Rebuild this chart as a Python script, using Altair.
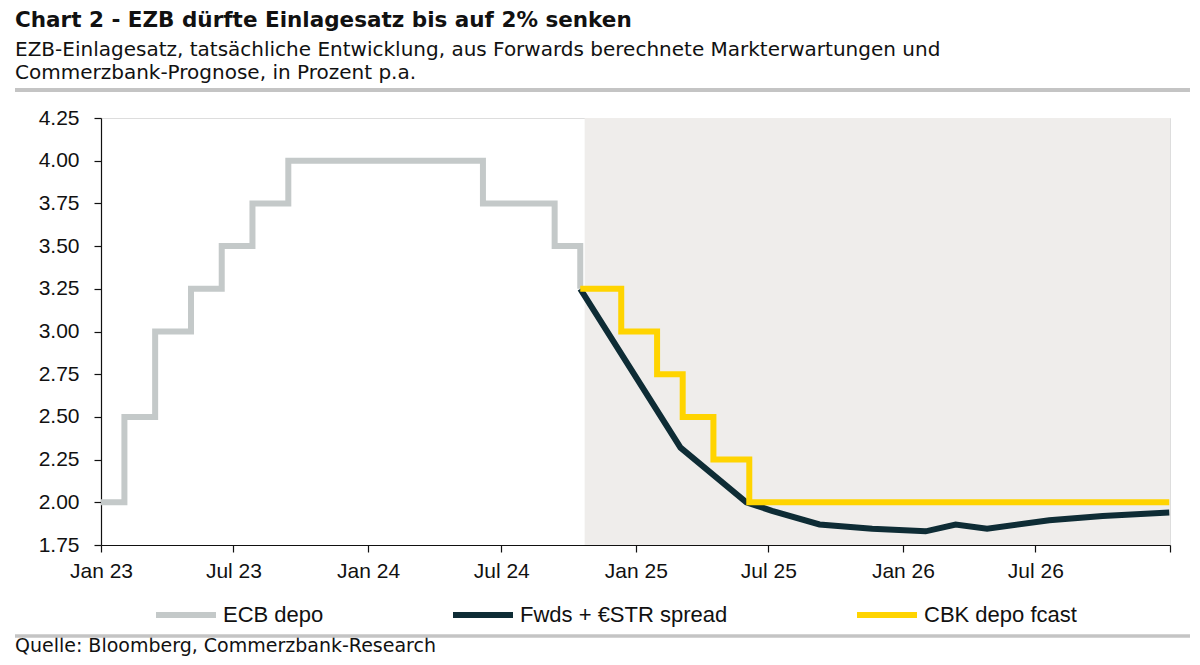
import altair as alt
import pandas as pd

TITLE = "Chart 2 - EZB dürfte Einlagesatz bis auf 2% senken"
SUB1 = "EZB-Einlagesatz, tatsächliche Entwicklung, aus Forwards berechnete Markterwartungen und"
SUB2 = "Commerzbank-Prognose, in Prozent p.a."
SOURCE = "Quelle: Bloomberg, Commerzbank-Research"

SERIES = ["ECB depo", "Fwds + €STR spread", "CBK depo fcast"]
COLORS = ["#c4c9c9", "#0e2c35", "#ffd400"]

ecb_dates = ["2023-01-01", "2023-02-02", "2023-03-16", "2023-05-04", "2023-06-15",
             "2023-07-27", "2023-09-14", "2024-06-06", "2024-09-12", "2024-10-17"]
ecb_values = [2.00, 2.50, 3.00, 3.25, 3.50, 3.75, 4.00, 3.75, 3.50, 3.25]

fwd_dates = ["2024-10-17", "2025-03-03", "2025-06-01", "2025-07-06", "2025-09-09",
             "2025-11-20", "2026-02-01", "2026-03-14", "2026-04-26", "2026-07-20",
             "2026-10-01", "2026-12-31"]
fwd_values = [3.25, 2.32, 2.00, 1.95, 1.87, 1.845, 1.83, 1.87, 1.845, 1.895, 1.92, 1.94]

cbk_dates = ["2024-10-17", "2024-12-12", "2025-01-30", "2025-03-06", "2025-04-17",
             "2025-06-05", "2026-12-31"]
cbk_values = [3.25, 3.00, 2.75, 2.50, 2.25, 2.00, 2.00]

shade_start = ["2024-10-23"]
shade_end = ["2027-01-01"]
y_ticks = [1.75, 2.00, 2.25, 2.50, 2.75, 3.00, 3.25, 3.50, 3.75, 4.00, 4.25]
x_tick_dates = [(2023, 1), (2023, 7), (2024, 1), (2024, 7), (2025, 1), (2025, 7),
                (2026, 1), (2026, 7), (2027, 1)]

rows = []
for name, ds, vs in [(SERIES[0], ecb_dates, ecb_values),
                     (SERIES[1], fwd_dates, fwd_values),
                     (SERIES[2], cbk_dates, cbk_values)]:
    for d, v in zip(ds, vs):
        rows.append({"date": d, "value": v, "series": name})
df = pd.DataFrame(rows)
shade_df = pd.DataFrame({"start": shade_start, "end": shade_end,
                         "top": [y_ticks[-1]], "bottom": [y_ticks[0]]})

AXFONT = "Liberation Sans"
xscale = alt.Scale(type="utc", domain=[alt.DateTime(year=2023, month=1, date=1, utc=True),
                                       alt.DateTime(year=2027, month=1, date=1, utc=True)])
yscale = alt.Scale(domain=[y_ticks[0], y_ticks[-1]], nice=False, zero=False)
xaxis = alt.Axis(title=None,
                 values=[alt.DateTime(year=y, month=m, date=1, utc=True) for y, m in x_tick_dates],
                 labelExpr="utcyear(datum.value) >= 2027 ? '' : utcFormat(datum.value, '%b %y')",
                 grid=False, domainColor="#111", domainWidth=1.2, tickColor="#111",
                 tickWidth=1.2, tickSize=7, labelFont=AXFONT, labelFontSize=21,
                 labelColor="#111", labelPadding=8, labelFlush=False)
yaxis = alt.Axis(title=None, values=y_ticks, format=".2f", grid=False,
                 domainColor="#111", domainWidth=1.2, tickColor="#111", tickWidth=1.2,
                 tickSize=7, labelFont=AXFONT, labelFontSize=21, labelColor="#111",
                 labelPadding=15)

color = alt.Color("series:N", scale=alt.Scale(domain=SERIES, range=COLORS),
                  legend=alt.Legend(title=None, orient="none", legendX=52, legendY=464,
                                    direction="horizontal", symbolType="stroke",
                                    symbolSize=3600, symbolStrokeWidth=6,
                                    labelFont=AXFONT, labelFontSize=22, labelColor="#111",
                                    labelOffset=4, columnPadding=117, padding=0,
                                    labelLimit=400))

shade = alt.Chart(shade_df).mark_rect(color="#efedeb").encode(
    x=alt.X("start:T", scale=xscale, axis=xaxis),
    x2="end:T",
    y=alt.Y("top:Q", scale=yscale, axis=yaxis),
    y2="bottom:Q",
)

base = alt.Chart(df)


def line_layer(name, interp):
    return base.transform_filter(alt.datum.series == name).mark_line(
        interpolate=interp, strokeWidth=6, strokeCap="butt", strokeJoin="miter"
    ).encode(
        x=alt.X("date:T", scale=xscale, axis=xaxis),
        y=alt.Y("value:Q", scale=yscale, axis=yaxis),
        color=color,
    )


ecb = line_layer(SERIES[0], "step-after")
fwd = line_layer(SERIES[1], "linear")
cbk = line_layer(SERIES[2], "step-after")


def text_layer(txt, x, y, size, weight="normal", font="DejaVu Sans"):
    return alt.Chart(pd.DataFrame({"t": [txt]})).mark_text(
        align="left", baseline="alphabetic", font=font, fontSize=size,
        fontWeight=weight, color="#111"
    ).encode(x=alt.value(x), y=alt.value(y), text="t:N")


title = text_layer(TITLE, -86, 27 - 118, 21.5, "bold")
sub1 = text_layer(SUB1, -86, 56 - 118, 20)
sub2 = text_layer(SUB2, -86, 79 - 118, 20)
source = text_layer(SOURCE, -86, 652 - 118, 19)

rule_top = alt.Chart(pd.DataFrame({"a": [0]})).mark_rule(color="#c4c4c4", strokeWidth=4).encode(
    x=alt.value(-86), x2=alt.value(1089), y=alt.value(90 - 118))
rule_bot = alt.Chart(pd.DataFrame({"a": [0]})).mark_rule(color="#c4c4c4", strokeWidth=3.5).encode(
    x=alt.value(-86), x2=alt.value(1089), y=alt.value(636 - 118))

chart = alt.layer(shade, ecb, fwd, cbk, title, sub1, sub2, source, rule_top, rule_bot).properties(
    width=1069, height=427,
    autosize=alt.AutoSizeParams(type="none"),
    padding={"left": 93, "top": 110, "right": 20, "bottom": 112},
).configure_view(stroke=None).configure(background="white")

chart.save("out.html", embed_options={"renderer": "svg", "actions": False})
